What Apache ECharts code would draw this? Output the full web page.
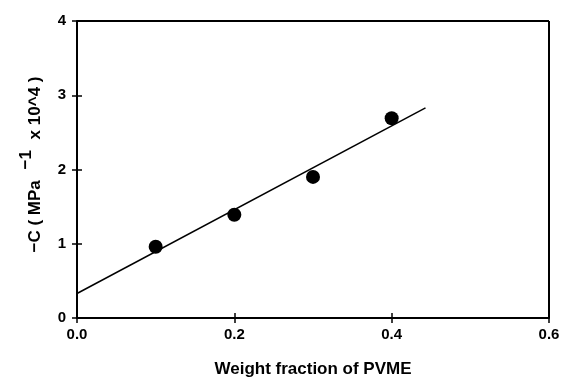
<!DOCTYPE html>
<html><head><meta charset="utf-8">
<script src="https://cdn.jsdelivr.net/npm/echarts@6/dist/echarts.min.js"></script>
<style>html,body{margin:0;padding:0;background:#fff}#c{width:563px;height:379px}</style>
</head><body><div id="c"></div>
<script>
var fractions = [0.1, 0.2, 0.3, 0.4];
var cValues = [0.96, 1.39, 1.90, 2.69];
var fitX = [0.0, 0.443];
var fitY = [0.33, 2.83];
var xTicks = ['0.0','0.2','0.4','0.6'];

var chart = echarts.init(document.getElementById('c'));
var font = 'Liberation Sans';
var tickStyle = {color: '#000', width: 1.5};
chart.setOption({
  animation: false,
  grid: {left: 77, right: 14, top: 21, bottom: 61, show: false, outerBoundsMode: 'none', containLabel: false},
  xAxis: [{
    type: 'value', min: 0, max: 0.6, interval: 0.2,
    name: 'Weight fraction of PVME', nameLocation: 'middle', nameGap: 43,
    nameTextStyle: {fontFamily: font, fontSize: 17, color: '#000', fontWeight: 'bold'},
    axisLine: {show: true, lineStyle: {color: '#000', width: 2}},
    axisTick: {show: true, length: 5, inside: true, lineStyle: tickStyle},
    axisLabel: {fontFamily: font, fontSize: 15, fontWeight: 'bold', color: '#000', margin: 9,
      formatter: function(v){ return xTicks[Math.round(v / 0.2)]; }},
    splitLine: {show: false}
  }, {
    type: 'value', min: 0, max: 0.6, interval: 0.2, position: 'bottom',
    axisLine: {show: false},
    axisTick: {show: true, length: 5, inside: false, lineStyle: tickStyle},
    axisLabel: {show: false}, splitLine: {show: false}
  }],
  yAxis: [{
    type: 'value', min: 0, max: 4, interval: 1,
    name: '{n|−C ( MPa }{s|−1}{n| x 10^4 )}', nameLocation: 'middle', nameGap: 24,
    nameTextStyle: {fontFamily: font, fontSize: 17, color: '#000', padding: [0, 0, 0, 10],
      rich: {
        n: {fontFamily: font, fontSize: 17, fontWeight: 'bold', color: '#000'},
        s: {fontFamily: font, fontSize: 17, fontWeight: 'bold', color: '#000', padding: [0, 6, 18, 6]}
      }},
    axisLine: {show: true, lineStyle: {color: '#000', width: 2}},
    axisTick: {show: true, length: 5, inside: true, lineStyle: tickStyle},
    axisLabel: {fontFamily: font, fontSize: 15, fontWeight: 'bold', color: '#000', margin: 11},
    splitLine: {show: false}
  }, {
    type: 'value', min: 0, max: 4, interval: 1, position: 'left',
    axisLine: {show: false},
    axisTick: {show: true, length: 5, inside: false, lineStyle: tickStyle},
    axisLabel: {show: false}, splitLine: {show: false}
  }],
  series: [
    {
      type: 'line', data: fitX.map(function(x, i){ return [x, fitY[i]]; }),
      showSymbol: false, symbol: 'none',
      lineStyle: {color: '#000', width: 1.5}, silent: true
    },
    {
      type: 'scatter', data: fractions.map(function(x, i){ return [x, cValues[i]]; }),
      symbol: 'circle', symbolSize: 14,
      itemStyle: {color: '#000', opacity: 1}
    },
    {
      type: 'line', data: [[0, 4], [0.6, 4]], symbol: 'none', silent: true,
      lineStyle: {color: '#000', width: 2}
    },
    {
      type: 'line', data: [[0.6, 0], [0.6, 4]], symbol: 'none', silent: true,
      lineStyle: {color: '#000', width: 2}
    }
  ]
});
</script></body></html>
